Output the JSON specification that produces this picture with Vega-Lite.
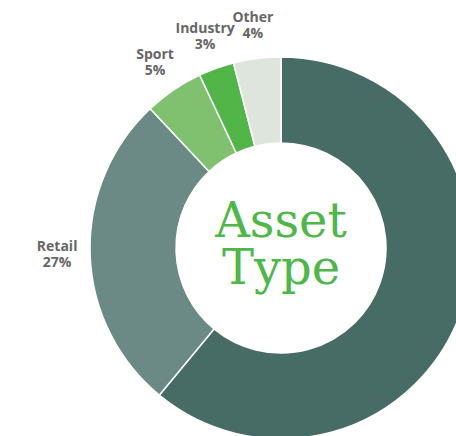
{
  "$schema": "https://vega.github.io/schema/vega-lite/v6.json",
  "width": 562,
  "height": 496,
  "autosize": {"type": "none"},
  "padding": 0,
  "background": "white",
  "config": {"view": {"stroke": null}},
  "layer": [
    {
      "data": {
        "values": [
          {"type": "Office", "share": 0.61, "rank": 1},
          {"type": "Retail", "share": 0.27, "rank": 2},
          {"type": "Sport", "share": 0.05, "rank": 3},
          {"type": "Industry", "share": 0.03, "rank": 4},
          {"type": "Other", "share": 0.04, "rank": 5}
        ]
      },
      "encoding": {
        "theta": {"field": "share", "type": "quantitative", "stack": true},
        "order": {"field": "rank", "type": "quantitative"}
      },
      "layer": [
        {
          "mark": {"type": "arc", "radius": 191, "radius2": 105, "stroke": "white", "strokeWidth": 1.5},
          "encoding": {
            "color": {
              "field": "type",
              "type": "nominal",
              "scale": {
                "domain": ["Office", "Retail", "Sport", "Industry", "Other"],
                "range": ["#476c66", "#6b8a85", "#80c170", "#52b548", "#dee5dc"]
              },
              "legend": null
            }
          }
        },
        {
          "mark": {"type": "text", "radius": 224, "dy": -8, "fontSize": 14, "fontWeight": "bold", "font": "Open Sans", "fill": "#666666", "baseline": "middle", "align": "center"},
          "encoding": {"text": {"field": "type"}}
        },
        {
          "mark": {"type": "text", "radius": 224, "dy": 8, "fontSize": 14, "fontWeight": "bold", "font": "Open Sans", "fill": "#666666", "baseline": "middle", "align": "center"},
          "encoding": {"text": {"field": "share", "type": "quantitative", "format": ".0%"}}
        }
      ]
    },
    {
      "data": {"values": [{"title": "Asset Type"}]},
      "mark": {"type": "text", "lineBreak": " ", "font": "DejaVu Serif", "fontSize": 48, "lineHeight": 47, "fill": "#4db848", "baseline": "alphabetic", "align": "center", "dy": -11},
      "encoding": {"text": {"field": "title"}}
    }
  ]
}
